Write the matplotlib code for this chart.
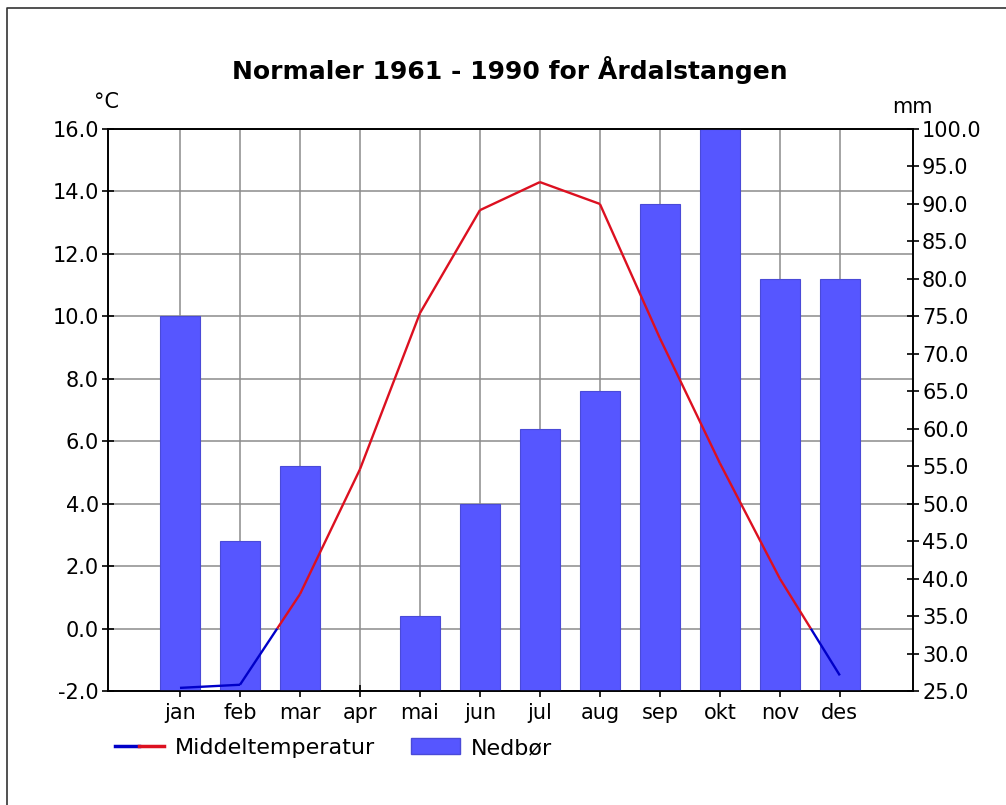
import matplotlib
matplotlib.use('Agg')
import matplotlib.pyplot as plt
import numpy as np
from matplotlib.lines import Line2D
from matplotlib.patches import Patch
from matplotlib.collections import LineCollection
from matplotlib.legend_handler import HandlerTuple

months = ["jan", "feb", "mar", "apr", "mai", "jun", "jul", "aug", "sep", "okt", "nov", "des"]
temperature = [-1.9, -1.8, 1.1, 5.1, 10.1, 13.4, 14.3, 13.6, 9.3, 5.3, 1.6, -1.5]
precipitation = [75, 45, 55, 20, 35, 50, 60, 65, 90, 100, 80, 80]

temp_ticks = np.arange(-2, 16.1, 2)
prec_ticks = np.arange(25, 100.1, 5)

cold_color = "#0000c8"
warm_color = "#dc1020"
bar_color = "#5656ff"


def split_at_zero(x, y):
    # split the polyline where it crosses 0 so each piece gets one colour
    cold, warm = [], []
    for i in range(len(x) - 1):
        x0, x1, y0, y1 = x[i], x[i + 1], y[i], y[i + 1]
        if (y0 < 0) != (y1 < 0):
            xc = x0 + (0 - y0) / (y1 - y0) * (x1 - x0)
            pieces = [((x0, y0), (xc, 0.0)), ((xc, 0.0), (x1, y1))]
        else:
            pieces = [((x0, y0), (x1, y1))]
        for p in pieces:
            if (p[0][1] + p[1][1]) / 2 < 0:
                cold.append(p)
            else:
                warm.append(p)
    return cold, warm


if __name__ == "__main__":
    plt.rc('font', family='DejaVu Sans', size=15)
    fig = plt.figure(figsize=(10.06, 8.05), dpi=100)
    ax1 = fig.add_axes([108 / 1006, 1 - 691 / 805, (913 - 108) / 1006, (691 - 129) / 805])
    ax2 = ax1.twinx()

    x = np.arange(len(months))

    # temperature axis (left) with grid
    ax1.set_xlim(-1.2, 12.22)
    ax1.set_ylim(-2, 16)
    ax1.set_yticks(temp_ticks)
    ax1.set_yticklabels(["%.1f" % v for v in temp_ticks])
    ax1.set_xticks(x)
    ax1.set_xticklabels(months)
    ax1.grid(True, color="#8c8c8c", linewidth=1.1, zorder=0)
    ax1.tick_params(axis='y', direction='inout', length=9, width=1.2, pad=2)
    ax1.tick_params(axis='x', direction='inout', length=9, width=1.2, pad=4)

    # precipitation bars (right axis)
    ax2.bar(x, precipitation, width=0.66, color=bar_color, edgecolor="#4a4ad8", linewidth=0.8, zorder=2)
    ax2.set_ylim(25, 100)
    ax2.set_yticks(prec_ticks)
    ax2.set_yticklabels(["%.1f" % v for v in prec_ticks])
    ax2.tick_params(axis='y', direction='inout', length=9, width=1.2, pad=2)

    # temperature line drawn on top of the bars, in temperature units
    cold, warm = split_at_zero(x, temperature)
    lc_cold = LineCollection(cold, colors=cold_color, linewidths=1.7, transform=ax1.transData, zorder=5)
    lc_warm = LineCollection(warm, colors=warm_color, linewidths=1.7, transform=ax1.transData, zorder=5)
    ax2.add_collection(lc_cold, autolim=False)
    ax2.add_collection(lc_warm, autolim=False)
    ax2.set_xlim(-1.2, 12.22)

    for ax in (ax1, ax2):
        for s in ax.spines.values():
            s.set_linewidth(1.2)

    fig.text(510 / 1006, 1 - 70 / 805, "Normaler 1961 - 1990 for Årdalstangen",
             ha='center', va='center', fontsize=18, fontweight='bold')
    fig.text(107 / 1006, 1 - 102 / 805, "°C", ha='center', va='center', fontsize=15)
    fig.text(912 / 1006, 1 - 107 / 805, "mm", ha='center', va='center', fontsize=15)

    handles = [(Line2D([], [], color=cold_color, lw=2.5), Line2D([], [], color=warm_color, lw=2.5)),
               Patch(facecolor=bar_color, edgecolor="#4a4ad8")]
    fig.legend(handles, ["Middeltemperatur", "Nedbør"], ncol=2, frameon=False,
               loc='center left', bbox_to_anchor=(115 / 1006, 1 - 748 / 805),
               borderpad=0, borderaxespad=0, handlelength=2.2, handletextpad=0.5,
               columnspacing=1.6, fontsize=16,
               handler_map={tuple: HandlerTuple(ndivide=None, pad=0)})

    # thin frame at top and left of the picture
    fig.add_artist(Line2D([7 / 1006, 7 / 1006, 1.0], [0.0, 1 - 8 / 805, 1 - 8 / 805],
                          transform=fig.transFigure, color="#333333", lw=1.2))

    plt.savefig("out.png", dpi=100)
